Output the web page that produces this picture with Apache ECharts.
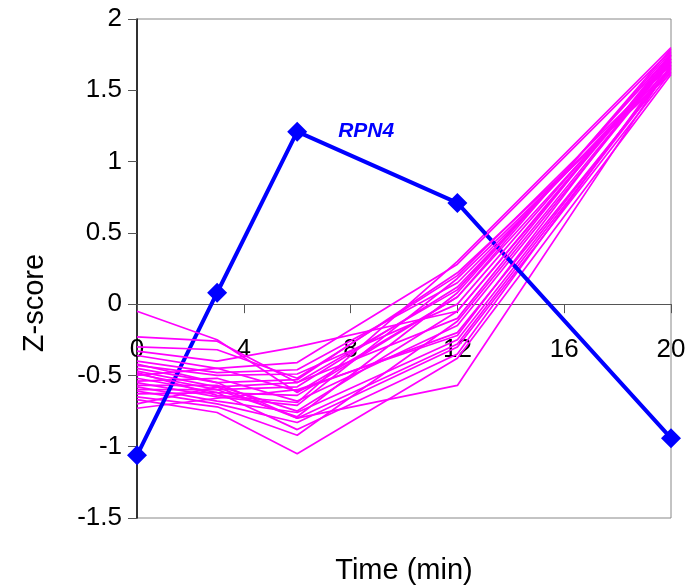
<!DOCTYPE html>
<html><head><meta charset="utf-8">
<script src="https://cdn.jsdelivr.net/npm/echarts@6/dist/echarts.min.js"></script>
<style>html,body{margin:0;padding:0;background:#fff}#c{width:700px;height:585px}</style>
</head><body><div id="c"></div>
<script>
// Time points (min)
const timePoints = [0, 3, 6, 12, 20];
// Highlighted gene
const rpn4Name = 'RPN4';
const rpn4Values = [-1.06, 0.08, 1.21, 0.71, -0.94];
// Co-clustered genes (Z-score at each time point)
const clusterProfiles = [
  [-0.05, -0.25, -0.62,  0.05, 1.70],
  [-0.23, -0.26, -0.55,  0.10, 1.75],
  [-0.30, -0.32, -0.52,  0.20, 1.68],
  [-0.33, -0.40, -0.30, -0.05, 1.72],
  [-0.36, -0.45, -0.41,  0.28, 1.78],
  [-0.40, -0.48, -0.46,  0.15, 1.66],
  [-0.43, -0.50, -0.49,  0.00, 1.73],
  [-0.45, -0.55, -0.53,  0.22, 1.62],
  [-0.47, -0.58, -0.55, -0.10, 1.76],
  [-0.49, -0.60, -0.58,  0.12, 1.69],
  [-0.50, -0.45, -0.61, -0.20, 1.65],
  [-0.52, -0.62, -0.64,  0.05, 1.79],
  [-0.54, -0.52, -0.68, -0.15, 1.71],
  [-0.55, -0.65, -0.71,  0.18, 1.64],
  [-0.57, -0.57, -0.75, -0.05, 1.74],
  [-0.58, -0.68, -0.76, -0.25, 1.67],
  [-0.60, -0.60, -0.79,  0.08, 1.77],
  [-0.61, -0.70, -0.83, -0.30, 1.63],
  [-0.63, -0.62, -0.88, -0.35, 1.70],
  [-0.65, -0.72, -0.92, -0.12, 1.72],
  [-0.67, -0.76, -1.05, -0.38, 1.61],
  [-0.70, -0.58, -0.80, -0.57, 1.68],
  [-0.73, -0.66, -0.60, -0.22, 1.75],
  [-0.48, -0.64, -0.69,  0.30, 1.80],
  [-0.42, -0.55, -0.80, -0.28, 1.66]
];
const xMin = 0, xMax = 20, xStep = 4;
const yMin = -1.5, yMax = 2, yStep = 0.5;
const xTitle = 'Time (min)';
const yTitle = 'Z-score';

const FONT = '"Liberation Sans", Arial, sans-serif';
const chart = echarts.init(document.getElementById('c'));

const toPairs = vals => timePoints.map((t, i) => [t, vals[i]]);
const magentaSeries = clusterProfiles.map((vals, k) => ({
  type: 'line', data: toPairs(vals), symbol: 'none', silent: true,
  lineStyle: { color: '#FF00FF', width: 1.7 }, z: 3
}));
const blueData = toPairs(rpn4Values).map((p, i) => i === 2 ? {
  value: p,
  label: { show: true, position: 'right', distance: 31, formatter: rpn4Name,
    color: '#0000FF', fontStyle: 'italic', fontWeight: 'bold', fontSize: 21, fontFamily: FONT }
} : p);
const blueSeries = {
  type: 'line', data: blueData, symbol: 'diamond', symbolSize: 20,
  itemStyle: { color: '#0000FF' }, lineStyle: { color: '#0000FF', width: 4 }, z: 3
};
const half = Math.floor(magentaSeries.length / 2);
const series = magentaSeries.slice(half).concat([blueSeries], magentaSeries.slice(0, half));

const gridTop = 19, gridBottom = 67, chartH = 585;
const plotH = chartH - gridTop - gridBottom;
// place the x axis at y = 0 through the library's axis offset
const zeroOffset = -plotH * (0 - yMin) / (yMax - yMin);

chart.setOption({
  animation: false,
  backgroundColor: '#fff',
  grid: { left: 137, right: 29, top: gridTop, bottom: gridBottom, show: true, borderColor: '#888', borderWidth: 1,
          containLabel: false, outerBoundsMode: 'none' },
  xAxis: {
    type: 'value', min: xMin, max: xMax, interval: xStep, offset: zeroOffset,
    name: xTitle, nameLocation: 'middle', nameGap: 252,
    nameTextStyle: { fontSize: 29, color: '#000', fontFamily: FONT },
    axisLine: { onZero: false, lineStyle: { color: '#555', width: 1 } },
    axisTick: { show: true, inside: false, length: 9, lineStyle: { color: '#555' } },
    axisLabel: { fontSize: 26, color: '#000', margin: 33, fontFamily: FONT },
    splitLine: { show: false }
  },
  yAxis: {
    type: 'value', min: yMin, max: yMax, interval: yStep,
    axisLine: { onZero: false, lineStyle: { color: '#000', width: 1.5 } },
    axisTick: { show: true, length: 9, lineStyle: { color: '#555' } },
    axisLabel: { fontSize: 26, color: '#000', margin: 15, fontFamily: FONT },
    splitLine: { show: false }
  },
  graphic: [{
    type: 'text', x: 35, y: 303, rotation: Math.PI / 2,
    style: { text: yTitle, fontSize: 29, fill: '#000', fontFamily: FONT, align: 'center', verticalAlign: 'middle' }
  }],
  series: series
});
</script>
</body></html>
